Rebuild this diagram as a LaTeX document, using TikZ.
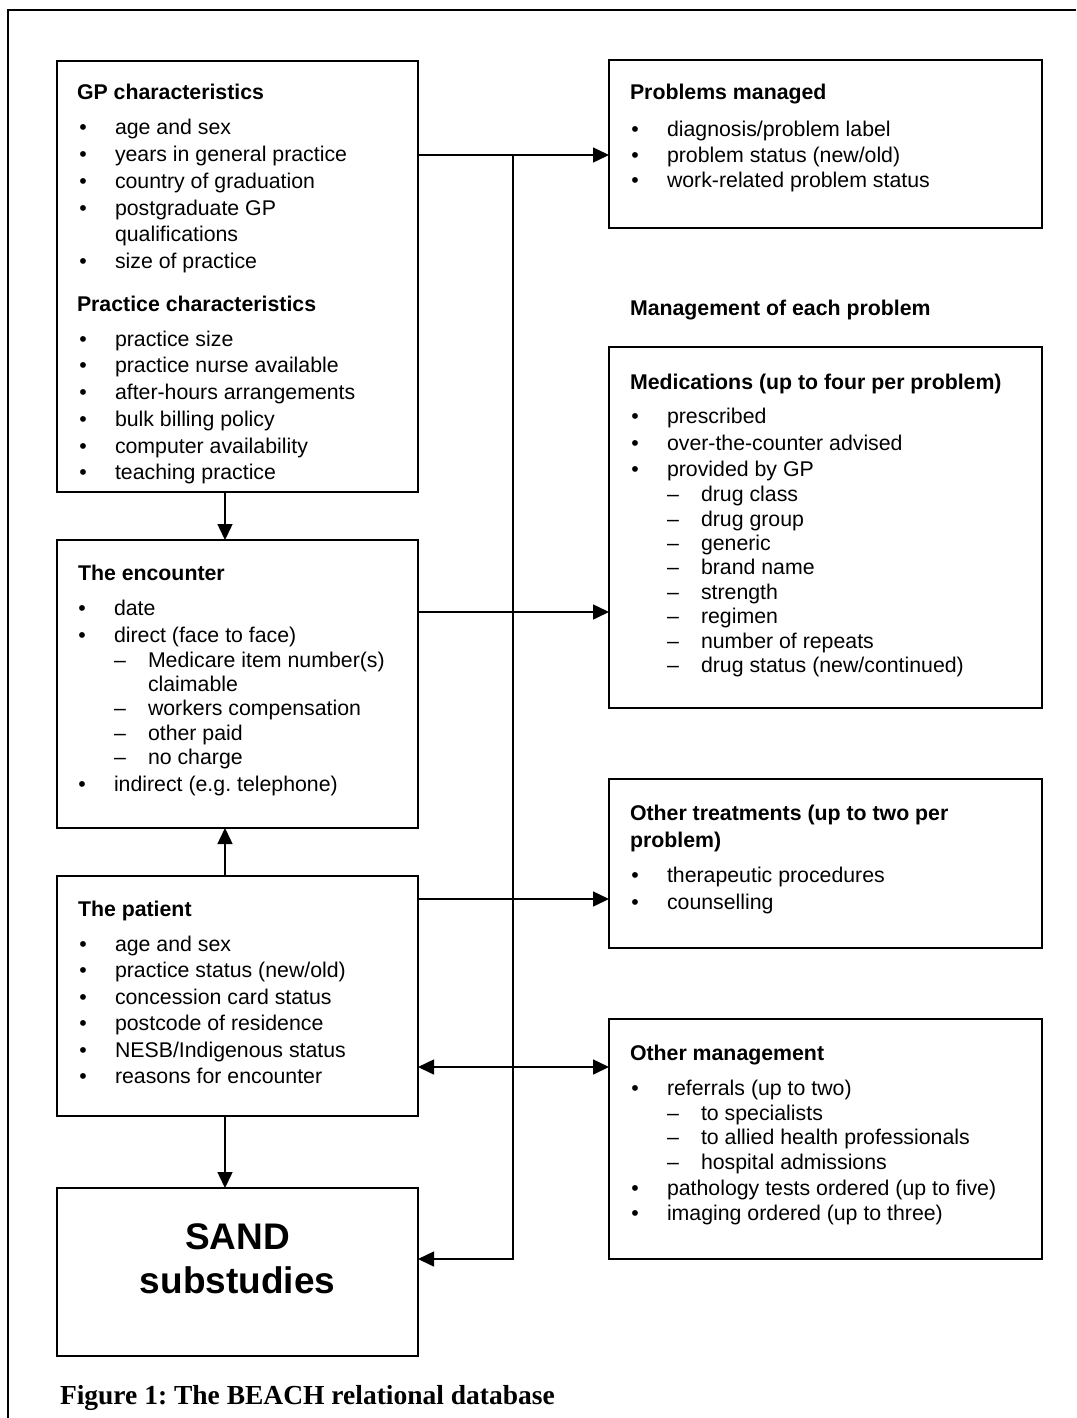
\documentclass[tikz,border=0pt]{standalone}
\usepackage{fontspec}
\setmainfont{Liberation Sans}
\newfontfamily\capfont{Liberation Serif}
\usetikzlibrary{arrows.meta}
\frenchspacing
\newcommand\bodyfont{\fontsize{21.3}{26}\selectfont}
% bullet item: name, x of text, y of text centre, text
\newcommand\li[4]{%
  \node[bul] (#1b) at (#2-32,#3+7) {•};
  \node[txt] (#1) at (#2,#3+7) {#4};}
% dash item: name, x of text, y of text centre, text
\newcommand\di[4]{%
  \node[txt] (#1d) at (#2-34,#3+7) {–};
  \node[txt] (#1) at (#2,#3+7) {#4};}
\begin{document}
\begin{tikzpicture}[x=1pt,y=-1pt,
  every node/.style={inner sep=0pt, outer sep=0pt},
  box/.style={draw=black, line width=1.8pt, anchor=north west},
  txt/.style={anchor=base west, font=\bodyfont},
  ttl/.style={anchor=base west, font=\bodyfont\bfseries},
  bul/.style={anchor=base, font=\bodyfont},
  conn/.style={line width=1.5pt, -{Triangle[length=16pt,width=15pt]}},
  dconn/.style={line width=1.5pt, {Triangle[length=16pt,width=15pt]}-{Triangle[length=16pt,width=15pt]}}]
\useasboundingbox (0,0) rectangle (1076,1418);
% outer frame
\draw[line width=2pt] (8,1418) -- (8,10) -- (1076,10);

% boxes
\node[box, minimum width=361pt, minimum height=431pt] (gp)   at (57,61)   {};
\node[box, minimum width=361pt, minimum height=288pt] (enc)  at (57,540)  {};
\node[box, minimum width=361pt, minimum height=240pt] (pat)  at (57,876)  {};
\node[box, minimum width=361pt, minimum height=168pt] (sand) at (57,1188) {};
\node[box, minimum width=433pt, minimum height=168pt] (prob) at (609,60)  {};
\node[box, minimum width=433pt, minimum height=361pt] (med)  at (609,347) {};
\node[box, minimum width=433pt, minimum height=169pt] (ot)   at (609,779) {};
\node[box, minimum width=433pt, minimum height=240pt] (om)   at (609,1019) {};

% GP characteristics
\node[ttl] (gpt) at (77,100) {GP characteristics};
\li{gpa}{115}{128}{age and sex}
\li{gpb}{115}{154}{years in general practice}
\li{gpc}{115}{181}{country of graduation}
\li{gpd}{115}{208}{postgraduate GP}
\node[txt] (gpd2) at (115,241) {qualifications};
\li{gpe}{115}{261}{size of practice}
\node[ttl] (pct) at (77,311) {Practice characteristics};
\li{pca}{115}{339}{practice size}
\li{pcb}{115}{365}{practice nurse available}
\li{pcc}{115}{392}{after-hours arrangements}
\li{pcd}{115}{419}{bulk billing policy}
\li{pce}{115}{446}{computer availability}
\li{pcf}{115}{472}{teaching practice}

% The encounter
\node[ttl] (enct) at (78,580) {The encounter};
\li{ena}{114}{608}{date}
\li{enb}{114}{635}{direct (face to face)}
\di{enc1}{148}{660}{Medicare item number(s)}
\node[txt] (enc1b) at (148,691) {claimable};
\di{enc2}{148}{708}{workers compensation}
\di{enc3}{148}{733}{other paid}
\di{enc4}{148}{757}{no charge}
\li{enc5}{114}{784}{indirect (e.g. telephone)}

% The patient
\node[ttl] (patt) at (78,916) {The patient};
\li{pa1}{115}{944}{age and sex}
\li{pa2}{115}{970}{practice status (new/old)}
\li{pa3}{115}{997}{concession card status}
\li{pa4}{115}{1023}{postcode of residence}
\li{pa5}{115}{1050}{NESB/Indigenous status}
\li{pa6}{115}{1076}{reasons for encounter}

% SAND
\node[anchor=base, font=\fontsize{37}{44}\selectfont\bfseries] (sand1) at (237.5,1249) {SAND};
\node[anchor=base, font=\fontsize{37}{44}\selectfont\bfseries] (sand2) at (237.5,1293) {substudies};

% Problems managed
\node[ttl] (probt) at (630,100) {Problems managed};
\li{pr1}{667}{129}{diagnosis/problem label}
\li{pr2}{667}{155}{problem status (new/old)}
\li{pr3}{667}{180}{work-related problem status}

\node[ttl] (mgmt) at (630,315) {Management of each problem};

% Medications
\node[ttl] (medt) at (630,389) {Medications (up to four per problem)};
\li{me1}{667}{416}{prescribed}
\li{me2}{667}{443}{over-the-counter advised}
\li{me3}{667}{469}{provided by GP}
\di{md1}{701}{494}{drug class}
\di{md2}{701}{519}{drug group}
\di{md3}{701}{543}{generic}
\di{md4}{701}{567}{brand name}
\di{md5}{701}{592}{strength}
\di{md6}{701}{616}{regimen}
\di{md7}{701}{641}{number of repeats}
\di{md8}{701}{665}{drug status (new/continued)}

% Other treatments
\node[ttl] (ott1) at (630,820) {Other treatments (up to two per};
\node[ttl] (ott2) at (630,847) {problem)};
\li{ot1}{667}{875}{therapeutic procedures}
\li{ot2}{667}{902}{counselling}

% Other management
\node[ttl] (omt) at (630,1060) {Other management};
\li{om1}{667}{1088}{referrals (up to two)}
\di{omd1}{701}{1113}{to specialists}
\di{omd2}{701}{1137}{to allied health professionals}
\di{omd3}{701}{1162}{hospital admissions}
\li{om2}{667}{1188}{pathology tests ordered (up to five)}
\li{om3}{667}{1213}{imaging ordered (up to three)}

% caption
\node[anchor=base west, font=\capfont\bfseries\fontsize{27.5}{30}\selectfont] (cap) at (60,1404) {Figure 1: The BEACH relational database};

% connectors
\coordinate (jtop) at (513,155);
\coordinate (jbot) at (513,1259);
\coordinate (ax) at (225,0);
\coordinate (ym) at (0,612);
\coordinate (yo) at (0,899);
\coordinate (yd) at (0,1067);
\draw[conn] (gp.east |- jtop) -- (prob.west |- jtop);
\draw[conn] (jtop) -- (jbot) -- (sand.east |- jbot);
\draw[conn] (gp.south -| ax) -- (enc.north -| ax);
\draw[conn] (pat.north -| ax) -- (enc.south -| ax);
\draw[conn] (pat.south -| ax) -- (sand.north -| ax);
\draw[conn] (enc.east |- ym) -- (med.west |- ym);
\draw[conn] (pat.east |- yo) -- (ot.west |- yo);
\draw[dconn] (pat.east |- yd) -- (om.west |- yd);
\end{tikzpicture}
\end{document}
